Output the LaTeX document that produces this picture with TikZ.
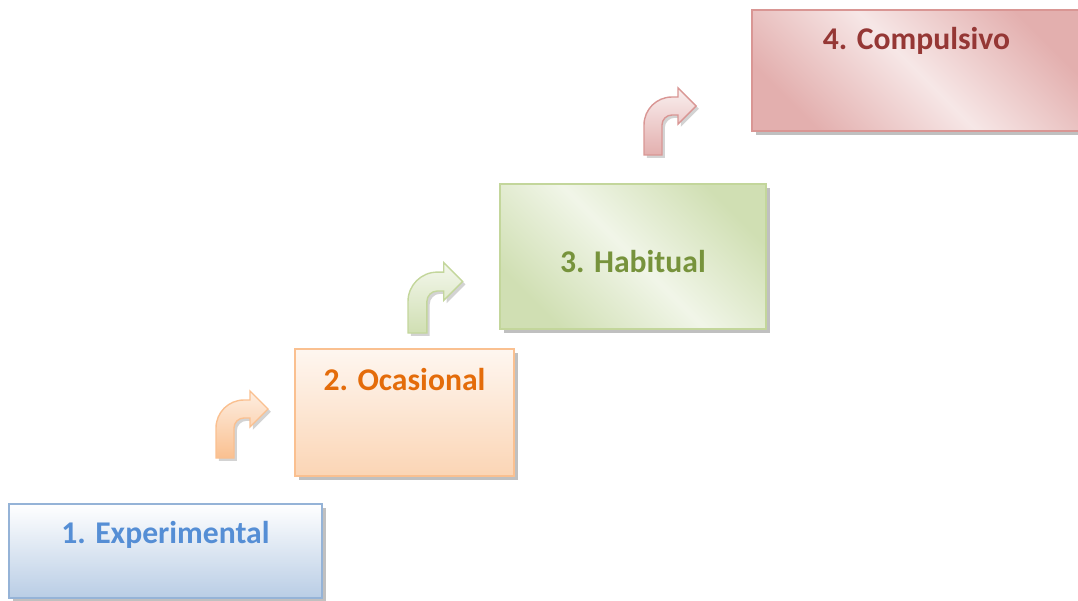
\documentclass[tikz,border=0pt]{standalone}
\usepackage{fontspec}
\setmainfont{Carlito}
\usetikzlibrary{shadows}
\definecolor{blueedge}{HTML}{95B3D7}
\definecolor{bluefill}{HTML}{B9CDE5}
\definecolor{bluetext}{HTML}{558ED5}
\definecolor{orangeedge}{HTML}{FAC090}
\definecolor{orangefill}{HTML}{FBD5B5}
\definecolor{orangetext}{HTML}{E46C0A}
\definecolor{greenedge}{HTML}{C3D69B}
\definecolor{greenfill}{HTML}{D0DFB3}
\definecolor{greentext}{HTML}{77933C}
\definecolor{rededge}{HTML}{D99694}
\definecolor{redfill}{HTML}{E3AFAE}
\definecolor{redtext}{HTML}{953735}
\tikzset{
    stage/.style =  {rectangle,
                    anchor=north west,
                    line width=1.3pt,
                    inner sep=0pt,
                    font=\bfseries\fontsize{22.5}{26}\selectfont,
                    drop shadow={shadow xshift=3pt,
                                shadow yshift=-3pt,
                                opacity=0.45,
                                fill=black!55}},
    turnarrow/.style = {line width=1pt,
                    drop shadow={shadow xshift=2pt,
                                shadow yshift=-2pt,
                                opacity=0.35,
                                fill=black!50}},
    pics/turn/.style = {code={
        \path[turnarrow,#1] (0,0) -- (0,30)
            .. controls (0,45.5) and (12.5,58) .. (28,58)
            -- (34,58) -- (34,67) -- (52,49) -- (34,31) -- (34,40) -- (28,40)
            .. controls (22.5,40) and (18,35.5) .. (18,30)
            -- (18,0) -- cycle;
    }},
    x=0.025cm,
    y=0.025cm}
\begin{document}
\begin{tikzpicture}
    \useasboundingbox (0,0) rectangle (1078,600);
    \node[stage, draw=blueedge, top color=white, bottom color=bluefill, text=bluetext,
          minimum width=7.825cm, text height=1cm, text depth=1.35cm]       (E) at (8,97)   {1. Experimental};
    \node[stage, draw=orangeedge, top color=orangefill!20, bottom color=orangefill, text=orangetext,
          minimum width=5.475cm, text height=1.05cm, text depth=2.125cm]   (O) at (294,252) {2. Ocasional};
    \node[stage, draw=greenedge, left color=greenfill, right color=greenfill, middle color=greenfill!30,
          shading angle=-45, text=greentext,
          minimum width=6.65cm, text height=2.225cm, text depth=1.4cm]     (H) at (499,417) {3. Habitual};
    \node[stage, draw=rededge, left color=redfill, right color=redfill, middle color=redfill!30,
          shading angle=-45, text=redtext,
          minimum width=8.225cm, text height=1cm, text depth=2.025cm]      (C) at (751,591) {4. Compulsivo};
    % bent arrows between the stages
    \pic at (216,142) {turn={draw=orangeedge, top color=orangefill!40, bottom color=orangeedge}};
    \pic[scale=1.05] at (408,267) {turn={draw=greenedge, top color=greenfill!25, bottom color=greenfill}};
    \pic at (644,445) {turn={draw=rededge, top color=redfill!20, bottom color=redfill}};
\end{tikzpicture}
\end{document}
